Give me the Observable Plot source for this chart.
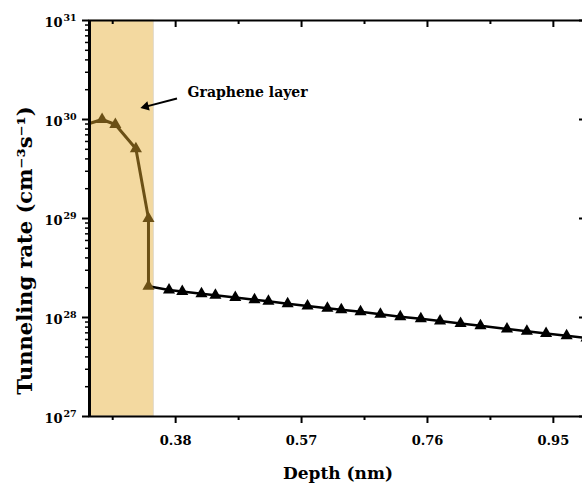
<!DOCTYPE html>
<html>
<head>
<meta charset="utf-8">
<script src="https://cdn.jsdelivr.net/npm/d3@7"></script>
<script src="https://cdn.jsdelivr.net/npm/@observablehq/plot@0.6"></script>
<style>
  html, body { margin: 0; padding: 0; background: #fff; overflow: hidden; }
  #chart { width: 582px; height: 484px; overflow: hidden; }
  #chart svg { max-width: none !important; }
</style>
</head>
<body>
<div id="chart"></div>
<script>
// Graphene-layer points (brown); first one lies just outside the left edge
const grapheneDepth = [0.230, 0.269, 0.289, 0.320, 0.339, 0.339];
const grapheneRate  = [8.3e29, 1.0e30, 8.9e29, 5.06e29, 1.0e29, 2.07e28];

// Bulk points (black)
const bulkDepth = [0.339, 0.370, 0.390, 0.419, 0.440, 0.470, 0.499, 0.520, 0.549, 0.579, 0.609,
                   0.630, 0.659, 0.689, 0.719, 0.750, 0.779, 0.810, 0.840, 0.880, 0.910,
                   0.939, 0.970, 1.000];
const bulkRate  = [2.07e28, 1.90e28, 1.83e28, 1.74e28, 1.68e28, 1.59e28, 1.51e28, 1.46e28, 1.38e28, 1.31e28, 1.24e28,
                   1.20e28, 1.14e28, 1.08e28, 1.02e28, 9.7e27, 9.2e27, 8.7e27, 8.25e27, 7.67e27, 7.28e27,
                   6.91e27, 6.55e27, 6.2e27];

const xMajor = [0.38, 0.57, 0.76, 0.95];
const xMinor = [0.285, 0.475, 0.665, 0.855];
const yMajor = [1e27, 1e28, 1e29, 1e30, 1e31];
const yBase = "10";
const yExponents = ["27", "28", "29", "30", "31"];
const yMinor = [];
for (let e = 27; e < 31; e++) for (let m = 2; m <= 9; m++) yMinor.push(m * Math.pow(10, e));

const band = [{x1: 0.25, x2: 0.347}];
const xTitle = "Depth (nm)";
const yTitle = "Tunneling rate (cm⁻³s⁻¹)";
const annotation = [{x: 0.398, y: 1.87e30, text: "Graphene layer"}];
const arrowShaft = [{x1: 0.382, y1: 1.63e30, x2: 0.335, y2: 1.35e30}];
const arrowHead = [{x: 0.335, y: 1.35e30}];

const graphene = grapheneDepth.map((d, i) => ({x: d, y: grapheneRate[i]}));
const bulk = bulkDepth.map((d, i) => ({x: d, y: bulkRate[i]}));
const yTickLabels = yMajor.map((v, i) => ({y: v, base: yBase, exp: yExponents[i]}));

const W = 590, H = 484, mL = 89, mR = 4, mT = 20, mB = 68;
const plotW = W - mL - mR, plotH = H - mT - mB;
const brown = "#6b5016";

const chart = Plot.plot({
  width: W, height: H,
  marginLeft: mL, marginRight: mR, marginTop: mT, marginBottom: mB,
  style: {fontFamily: "DejaVu Serif", fontWeight: "bold", fontSize: "13px", color: "#000", background: "#fff", maxWidth: "none"},
  x: {domain: [0.25, 1.0], label: null},
  y: {type: "log", domain: [1e27, 1e31], label: null},
  marks: [
    Plot.rect(band, {x1: "x1", x2: "x2", fill: "#f3d9a0", stroke: "#d9d2c4", strokeWidth: 0.8}),
    // inward ticks on top and right
    Plot.tickX(xMajor, {x: d => d, insetBottom: plotH - 7, stroke: "#000", strokeWidth: 2}),
    Plot.tickX(xMinor, {x: d => d, insetBottom: plotH - 4, stroke: "#000", strokeWidth: 2}),
    Plot.tickY(yMajor, {y: d => d, insetLeft: plotW - 7, stroke: "#000", strokeWidth: 2}),
    // bottom axis
    Plot.axisX(xMajor, {tickSize: 7, tickPadding: 12, tickFormat: d => d.toFixed(2), strokeWidth: 2, fontSize: 13, label: null}),
    Plot.axisX(xMinor, {tickSize: 4, tickFormat: () => "", strokeWidth: 2, label: null}),
    // left axis
    Plot.axisY(yMajor, {tickSize: 7, tickFormat: () => "", strokeWidth: 2, label: null}),
    Plot.axisY(yMinor, {tickSize: 4, tickFormat: () => "", strokeWidth: 1.5, label: null}),
    Plot.text(yTickLabels, {y: "y", text: "base", frameAnchor: "left", textAnchor: "end", dx: -27, dy: 2, fontSize: 13, fontWeight: "bold"}),
    Plot.text(yTickLabels, {y: "y", text: "exp", frameAnchor: "left", textAnchor: "start", dx: -26, dy: -3, fontSize: 9.5, fontWeight: "bold"}),
    Plot.line(bulk, {x: "x", y: "y", stroke: "#000", strokeWidth: 2.5, clip: true}),
    Plot.dot(bulk.slice(1), {x: "x", y: "y", symbol: "triangle", r: 4.5, fill: "#000", clip: true}),
    Plot.line(graphene, {x: "x", y: "y", stroke: brown, strokeWidth: 3, clip: true}),
    Plot.dot(graphene, {x: "x", y: "y", symbol: "triangle", r: 4.5, fill: brown, clip: true}),
    Plot.frame({stroke: "#000", strokeWidth: 2}),
    Plot.ruleX([0.25], {stroke: "#000", strokeWidth: 3}),
    Plot.link(arrowShaft, {x1: "x1", y1: "y1", x2: "x2", y2: "y2", stroke: "#000", strokeWidth: 2}),
    Plot.dot(arrowHead, {x: "x", y: "y", symbol: "triangle", r: 3.6, fill: "#000", rotate: -104}),
    Plot.text(annotation, {x: "x", y: "y", text: "text", textAnchor: "start", fontSize: 14, fontWeight: "bold"}),
    Plot.text([xTitle], {frameAnchor: "bottom", dy: 62, fontSize: 17, fontWeight: "bold"}),
    Plot.text([yTitle], {frameAnchor: "left", textAnchor: "middle", dx: -64, dy: 32, rotate: -90, fontSize: 21, fontWeight: "bold"})
  ]
});
document.getElementById("chart").appendChild(chart);
</script>
</body>
</html>
